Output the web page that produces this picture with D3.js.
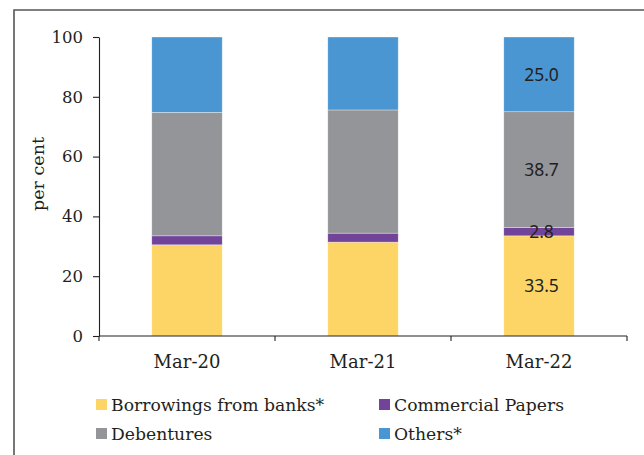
<!DOCTYPE html>
<html>
<head>
<meta charset="utf-8">
<script src="https://cdn.jsdelivr.net/npm/d3@7"></script>
<style>
  html, body { margin: 0; padding: 0; background: #fff; }
  svg { display: block; }
</style>
</head>
<body>
<svg id="chart" width="644" height="455"></svg>
<script>
// Funding composition (per cent of total)
const categories = ["Mar-20", "Mar-21", "Mar-22"];
const seriesNames = ["Borrowings from banks*", "Commercial Papers", "Debentures", "Others*"];
const borrowings = [30.5, 31.4, 33.5];
const commercialPapers = [3.0, 3.0, 2.8];
const debentures = [41.3, 41.2, 38.7];
const others = [25.2, 24.4, 25.0];
const yTicks = [0, 20, 40, 60, 80, 100];
const labelledCategories = ["Mar-22"];

const colors = ["#FDD466", "#71449A", "#939598", "#4A96D2"];
const serif = "'DejaVu Serif', 'Liberation Serif', serif";
const sans = "'Noto Sans', 'Open Sans', sans-serif";
const ink = "#231f20";

const rows = categories.map((c, i) => ({
  cat: c,
  s0: borrowings[i], s1: commercialPapers[i], s2: debentures[i], s3: others[i]
}));
const keys = ["s0", "s1", "s2", "s3"];
const stacked = d3.stack().keys(keys)(rows);

const svg = d3.select("#chart");

// outer frame (left and top edges visible)
svg.append("path")
  .attr("d", "M14,455 L14,10 L644,10")
  .attr("fill", "none").attr("stroke", "#555").attr("stroke-width", 1.6);

const plotLeft = 99, plotRight = 627, plotTop = 37, plotBottom = 336;

const x = d3.scaleBand().domain(categories).range([plotLeft, plotRight]).padding(0);
const y = d3.scaleLinear().domain([0, 100]).range([plotBottom, plotTop]);
const barW = x.bandwidth() * 0.4;

// bars
const g = svg.append("g");
stacked.forEach((layer, li) => {
  g.selectAll(null).data(layer).enter().append("rect")
    .attr("x", d => x(d.data.cat) + (x.bandwidth() - barW) / 2)
    .attr("y", d => y(d[1]))
    .attr("width", barW)
    .attr("height", d => y(d[0]) - y(d[1]))
    .attr("fill", colors[li])
    .attr("stroke", "rgba(255,255,255,0.55)")
    .attr("stroke-width", 0.6);
});

// value labels
stacked.forEach((layer) => {
  g.selectAll(null).data(layer.filter(d => labelledCategories.includes(d.data.cat))).enter()
    .append("text")
    .attr("x", d => x(d.data.cat) + x.bandwidth() / 2 + 2.5)
    .attr("y", d => y((d[0] + d[1]) / 2))
    .attr("dy", "0.36em")
    .attr("text-anchor", "middle")
    .attr("font-family", sans)
    .attr("font-size", 17.5)
    .attr("fill", ink)
    .text(d => (d[1] - d[0]).toFixed(1));
});

// y axis
const yAxis = svg.append("g")
  .attr("transform", `translate(${plotLeft},0)`)
  .call(d3.axisLeft(y).tickValues(yTicks).tickSize(6).tickSizeOuter(0).tickPadding(10));
yAxis.select(".domain").attr("stroke", ink).attr("stroke-width", 1.1);
yAxis.selectAll(".tick line").attr("stroke", ink).attr("stroke-width", 1.1);
yAxis.selectAll(".tick text")
  .attr("font-family", serif).attr("font-size", 16.5).attr("fill", ink);

// x axis: ticks at category boundaries
const xAxisG = svg.append("g").attr("transform", `translate(0,${plotBottom})`);
xAxisG.append("line")
  .attr("x1", plotLeft).attr("x2", plotRight)
  .attr("stroke", ink).attr("stroke-width", 1.1);
const boundaries = categories.map(c => x(c)).concat([x(categories[categories.length - 1]) + x.bandwidth()]);
xAxisG.selectAll(null).data(boundaries).enter().append("line")
  .attr("x1", d => d).attr("x2", d => d)
  .attr("y1", 0).attr("y2", 5)
  .attr("stroke", ink).attr("stroke-width", 1.1);
xAxisG.selectAll(null).data(categories).enter().append("text")
  .attr("x", d => x(d) + x.bandwidth() / 2)
  .attr("y", 32)
  .attr("text-anchor", "middle")
  .attr("font-family", serif)
  .attr("font-size", 18)
  .attr("fill", ink)
  .text(d => d);

// y axis title
svg.append("text")
  .attr("transform", `translate(44,174) rotate(-90)`)
  .attr("text-anchor", "middle")
  .attr("font-family", serif)
  .attr("font-size", 17.5)
  .attr("fill", ink)
  .text("per cent");

// legend
const legendPos = [[96, 405], [379, 405], [96, 434], [379, 434]];
const legend = svg.append("g");
seriesNames.forEach((name, i) => {
  const [lx, ly] = legendPos[i];
  legend.append("rect")
    .attr("x", lx).attr("y", ly - 6)
    .attr("width", 11).attr("height", 11)
    .attr("fill", colors[i]);
  legend.append("text")
    .attr("x", lx + 15).attr("y", ly)
    .attr("dy", "0.35em")
    .attr("font-family", serif)
    .attr("font-size", 17.2)
    .attr("fill", ink)
    .text(name);
});
</script>
</body>
</html>
